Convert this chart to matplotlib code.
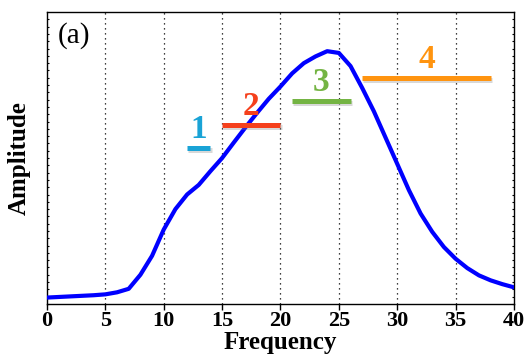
import numpy as np
import matplotlib
matplotlib.use("Agg")
import matplotlib.pyplot as plt
import matplotlib.patheffects as pe

# spectrum (amplitude in arbitrary units, 0..1)
freq = list(range(0, 41))
amp = [0.022, 0.024, 0.026, 0.028, 0.030, 0.033, 0.040, 0.052, 0.100, 0.165,
       0.255, 0.325, 0.375, 0.408, 0.455, 0.500, 0.553, 0.605, 0.655, 0.703,
       0.745, 0.790, 0.825, 0.848, 0.866, 0.860, 0.815, 0.740, 0.660, 0.570,
       0.480, 0.390, 0.310, 0.247, 0.195, 0.155, 0.123, 0.098, 0.081, 0.068,
       0.057]

# frequency bands
band_labels = ["1", "2", "3", "4"]
band_start = [12, 15, 21, 27]
band_end = [14, 20, 26, 38]
band_level = [0.533, 0.613, 0.694, 0.774]
band_colors = ["#19a3d6", "#f5401c", "#74b443", "#ff9410"]

xticks = [0, 5, 10, 15, 20, 25, 30, 35, 40]

plt.rcParams['font.family'] = ['Liberation Serif', 'DejaVu Serif']

fig = plt.figure(figsize=(5.25, 3.55), dpi=100)
ax = fig.add_axes([0.0895, 0.1437, 0.8895, 0.8223])

for x in xticks[1:-1]:
    ax.axvline(x, color="black", linestyle=(0, (1, 3)), linewidth=0.9, zorder=1)

ax.plot(freq, amp, color="#0000ff", linewidth=3.0, zorder=3)

shadow = [pe.SimpleLineShadow(offset=(0.8, -1.2), shadow_color="gray", alpha=0.3),
          pe.Normal()]
for lab, x0, x1, lv, c in zip(band_labels, band_start, band_end, band_level, band_colors):
    ax.plot([x0, x1], [lv, lv], color=c, linewidth=3.6, solid_capstyle="butt",
            zorder=4, path_effects=shadow)
    ax.text((x0 + x1) / 2, lv + 0.01, lab, color=c, fontsize=24, fontweight="bold",
            ha="center", va="bottom", zorder=5)

ax.text(0.024, 0.965, "(a)", transform=ax.transAxes, fontsize=21,
        ha="left", va="top")

ax.set_xlim(0, 40)
ax.set_ylim(0, 1)
ax.set_xticks(xticks)
ax.set_xticklabels([str(x) for x in xticks], fontsize=16, fontweight="bold")
ax.tick_params(axis="x", direction="out", length=4, width=1, pad=1)
ax.set_yticks(np.arange(0, 1.0, 0.025))
ax.set_yticklabels([])
ax.tick_params(axis="y", direction="in", length=1.5, width=0.8, left=True, right=True)

ax.set_xlabel("Frequency", fontsize=18, fontweight="bold", labelpad=0)
ax.set_ylabel("Amplitude", fontsize=18, fontweight="bold", labelpad=8)

for s in ax.spines.values():
    s.set_linewidth(1.0)

fig.savefig("out.png", dpi=100)
